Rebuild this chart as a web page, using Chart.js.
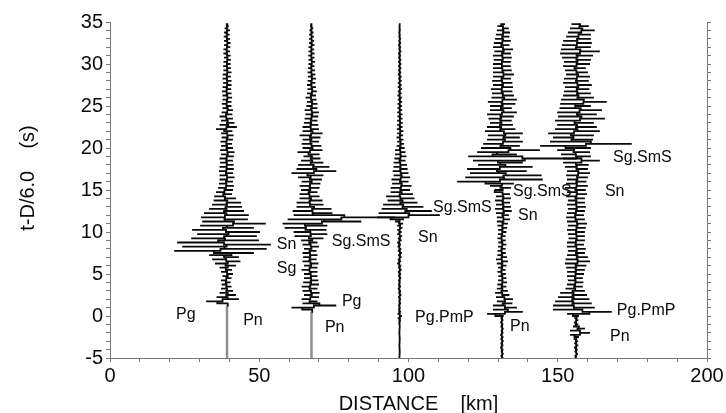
<!DOCTYPE html>
<html>
<head>
<meta charset="utf-8">
<script src="https://cdn.jsdelivr.net/npm/chart.js@4/dist/chart.umd.min.js"></script>
<style>
  html, body { margin: 0; padding: 0; background: #fff; }
  #wrap { width: 726px; height: 413px; }
</style>
</head>
<body>
<div id="wrap"><canvas id="section" width="726" height="413"></canvas></div>
<script>
// Record section: reduced time t - D/6.0 against epicentral distance
const TIME_START = -5;
const TIME_STEP = 0.25;

const stationKm = [39.2, 67.5, 97.0, 131.3, 156.1];

// Trace amplitudes, in km of offset from the station, one sample every 0.25 s from -5 s
// (each row below covers 5 s)
const trace1 = [
  0, 0, 0, 0, 0, 0, 0, 0, 0, 0, 0, 0, 0, 0, 0, 0, 0, 0, 0, 0,
  0, 0, 0, 0, 0, 0, 0.5, -7, 4, -3.5, 3, -2.5, 2, -2, 1.5, -1.8, 1.2, -2, 1.5, -1.5,
  2, -2, 1.7, -2.5, 3, -4, 4.5, -5, 4, -6, 9, -17.7, 13.3, -15, 14.7, -16.7, 10.7, -12, 10, -10,
  11, -11.7, 9, -9, 13, -8.3, 7, -8.7, 7.3, -7.7, 5.7, -6, 5, -5, 4.7, -4.5, 3, -4.3, 1.7, -3.7,
  2, -3, 2.3, -2.7, 2, -2.5, 2.5, -2.5, 2, -2.7, 2.3, -2.5, 2.2, -2.3, 2, -2.5, 2.3, -2, 2.5, -2.3,
  2, -2, 1.7, -2.2, 2, -1.8, 2.2, -2, 1.8, -3.7, 3.3, -2.5, 2.5, -2, 2, -2.5, 1.8, -1.8, 2, -1.5,
  1.5, -1.7, 1.5, -1.5, 1.7, -1.5, 1.5, -1.7, 1.4, -1.5, 1.5, -1.3, 1.5, -1.5, 1.3, -1.4, 1.5, -1.2, 1.3, -1.3,
  1.2, -1.2, 1.3, -1, 1.2, -1.2, 1, -1.2, 1.1, -1, 1.2, -1, 1, -1.1, 0.9, -1, 1, -0.8, 0.6, -0.4
];
const trace2 = [
  0, 0, 0, 0, 0, 0, 0, 0, 0, 0, 0, 0, 0, 0, 0, 0, 0, 0, 0, 0,
  0, 0, 0, 0.5, -6.7, 8.3, -3, 2, -3.3, 2.5, -2.5, 2.7, -3, 2, -3.3, 2.5, -2.8, 2.3, -2.5, 2,
  -2.5, 2, -3.3, 2, -2.5, 2.3, -3, 1.7, -2.8, 2, -3, 1.7, -2.5, 2.5, -3, 2, -3.5, 4, -5.7, 5.3,
  -6, 5, -9, 5.3, -9.7, 16.7, -8, 28, -6, 7, -6.3, 6.7, -5, 4, -5, 3.7, -4, 2.7, -4, 2,
  -3.5, 2.7, -4, 3, -3.3, 3.5, -4.5, 4, -6.7, 8.3, -5, 6, -4.5, 4, -3.5, 3, -2.7, 2.7, -4.7, 3.7,
  -3, 3.3, -3.3, 2.5, -3, 3, -4, 3.7, -3, 2.5, -3, 2.3, -2.5, 2, -2.3, 2.3, -2, 2.5, -2.3, 2,
  -1.7, 2, -1.5, 1.7, -2, 1.5, -1.5, 1.8, -1.3, 1.5, -1.5, 1.3, -1.3, 1.5, -1.2, 1.3, -1.3, 1.2, -1.2, 1,
  -1, 1.2, -1, 1, -1.1, 1, -1, 0.9, -1, 1, -0.8, 0.9, -0.8, 0.8, -0.8, 0.7, -0.7, 0.6, -0.5, 0.3
];
const trace3 = [
  0.2, -0.3, 0.3, -0.2, 0.3, -0.3, 0.2, -0.3, 0.3, -0.2, 0.3, -0.3, 0.2, -0.3, 0.3, -0.2, 0.3, -0.4, 0.5, -0.6,
  0.8, -0.7, 0.5, -0.5, 0.4, -0.5, 0.5, -0.4, 0.5, -0.5, 0.6, -0.4, 0.5, -0.6, 0.5, -0.5, 0.4, -0.5, 0.6, -0.5,
  0.5, -0.6, 0.7, -0.5, 0.6, -0.8, 0.5, -0.6, 0.7, -0.5, 0.8, -0.6, 0.6, -0.7, 0.5, -0.8, 0.7, -0.6, 0.9, -0.8,
  0.7, -0.8, 1, -0.8, 1.2, -1.5, 1.5, -7.5, 13.5, -7, 10.8, -6, 8, -5.5, 6, -4, 5, -4.5, 4.5, -3,
  3.5, -3, 4, -2.5, 3, -2.7, 3.5, -2, 3, -2.3, 2.7, -2, 2.5, -2, 2, -1.7, 2.3, -1.5, 2, -1.5,
  1.7, -1, 1.5, -0.8, 1.3, -1, 1.2, -0.8, 1.3, -0.9, 1, -0.8, 1.1, -0.8, 1, -0.7, 1, -0.8, 0.9, -0.7,
  0.8, -0.7, 0.9, -0.6, 0.8, -0.7, 0.7, -0.6, 0.8, -0.6, 0.7, -0.6, 0.7, -0.5, 0.7, -0.6, 0.6, -0.5, 0.6, -0.5,
  0.6, -0.5, 0.6, -0.5, 0.5, -0.5, 0.6, -0.4, 0.5, -0.5, 0.5, -0.4, 0.5, -0.4, 0.4, -0.4, 0.4, -0.3, 0.3, -0.2
];
const trace4 = [
  0.5, -0.5, 0.6, -0.4, 0.5, -0.6, 0.5, -0.5, 0.6, -0.5, 0.5, -0.6, 0.5, -0.4, 0.6, -0.5, 0.5, -0.6, 0.5, -0.5,
  0.6, -5, 7, -3, 5, -3, 3.5, -1.7, 3.7, -2, 2.5, -2.3, 2, -1.7, 1.5, -1.5, 1.7, -1.3, 1.5, -1.2,
  1.3, -1.5, 1.2, -1.3, 1.5, -1.7, 2, -2, 1.7, -1.5, 1.3, -1.5, 1.2, -1.3, 1.5, -1.2, 1.3, -1.5, 1.2, -1.3,
  1.5, -1.3, 1.7, -1.5, 2, -1.7, 2.7, -1.7, 2.3, -2, 3.3, -2.3, 3, -2, 2.7, -2.3, 3, -2, 2.7, -2.3,
  -2.5, 3, -4, 4, -15, 13.7, -12.3, 13.3, -10.7, 8.3, -11.7, 10.3, -8, 7, -9.7, 25, -11.3, 5, -8.3, 12.7,
  -7, 6, -6.3, 7, -5, 6, -4.7, 7, -5.7, 4.5, -5, 3.7, -4, 3.3, -4.5, 4, -5, 5, -4, 3.3,
  -4, 4.5, -4.7, 5, -3.5, 4, -3.3, 3.5, -3.7, 3.7, -3, 3.5, -3.3, 3, -3, 4, -3, 3.3, -3, 3,
  -3, 3, -2.7, 3.3, -3, 3, -2.5, 3.7, -3, 2.5, -2.7, 3, -2.3, 2.5, -2, 2.7, -1.7, 2.3, -1.5, 1
];
const trace5 = [
  0.3, -0.5, 0.7, -0.5, 0.6, -0.7, 0.8, -0.6, 0.7, -0.8, 1, -2, 4.7, -2, 3, -1, 0.8, -0.7, 0.8, -0.6,
  1, -3, 12, -7.7, 6.3, -7.7, 5.3, -7, 4.5, -6, 3.7, -5.3, 3, -3.5, 2.3, -3, 2.5, -2.7, 2.3, -3,
  2.7, -3, 3, -3.3, 3.5, -3.7, 4.7, -3.5, 4, -3, 3, -2.7, 3.3, -3, 2.7, -3, 3, -2.5, 3, -2.7,
  3, -3, 3.3, -2.7, 3.7, -3, 3, -3.3, 2.7, -3, 3, -2.7, 3.3, -3, 3, -2.7, 3, -3.3, 3.7, -3,
  3.3, -3.7, 4, -3.3, 3.5, -3, 4, -3.3, 4.7, -3, 4, -3.7, 4.3, -4.3, 8, -4.3, 5, -5, 4.7, -6.3,
  5, -12, 18.7, -8.7, 5.7, -7.7, 6, -9.3, 8, -7, 7, -6.3, 6, -7, 9.7, -6, 7, -6.3, 8.7, -5.5,
  5, -5.3, 10.3, -5, 6, -4.3, 5, -4, 4.5, -3.7, 5.3, -4.3, 4.3, -4, 4.7, -3.3, 4, -3.7, 3.3, -4.3,
  4.7, -4, 5, -4.7, 5.7, -5.3, 8, -5, 5, -4.7, 5.3, -4.3, 5, -3.3, 5, -2.7, 6.3, -2, 4.3, -1.5
];
const traces = [trace1, trace2, trace3, trace4, trace5];

// Phase picks: name, left edge of the label (km), reduced time (s)
const phaseNames = ['Pg', 'Pn', 'Sn', 'Sg',
  'Pg', 'Pn', 'Sg.SmS',
  'Sg.SmS', 'Sn', 'Pg.PmP',
  'Pn', 'Sg.SmS', 'Sn',
  'Sg.SmS', 'Sn', 'Pg.PmP', 'Pn'];
const phaseKm = [22.1, 44.6, 55.9, 55.9,
  77.7, 72.0, 74.3,
  108.2, 103.2, 102.2,
  134.0, 135.0, 136.7,
  168.5, 165.8, 169.8, 167.5];
const phaseTime = [0.2, -0.5, 8.45, 5.6,
  1.7, -1.4, 8.8,
  12.9, 9.3, -0.2,
  -1.3, 14.8, 12.0,
  18.8, 14.8, 0.6, -2.4];

const distanceTicks = [0, 50, 100, 150, 200];
const timeTicks = [-5, 0, 5, 10, 15, 20, 25, 30, 35];

const FONT = 'Arial, "Liberation Sans", sans-serif';
const INK = '#0a0a0a';
const AXIS = '#777';

Chart.defaults.font.family = FONT;

// samples become horizontal strokes that meet near the trace axis
const datasets = traces.map((amps, k) => {
  const quiet = c => amps[c.p0DataIndex] === 0 && amps[c.p1DataIndex] === 0;
  return {
    data: amps.map((a, i) => ({ x: stationKm[k] + a, y: TIME_START + i * TIME_STEP })),
    showLine: true,
    stepped: 'middle',
    pointRadius: 0,
    borderColor: INK,
    borderWidth: 1.8,
    segment: {
      borderColor: c => quiet(c) ? '#8f8f8f' : INK,
      borderWidth: c => quiet(c) ? 2.5 : 1.8
    }
  };
});

// phase names and axis titles
const annotate = {
  id: 'annotate',
  afterDatasetsDraw(chart) {
    const { ctx, scales: { x, y } } = chart;
    ctx.save();
    ctx.fillStyle = INK;
    ctx.font = '16px ' + FONT;
    ctx.textAlign = 'left';
    ctx.textBaseline = 'middle';
    phaseNames.forEach((name, i) => {
      ctx.fillText(name, x.getPixelForValue(phaseKm[i]), y.getPixelForValue(phaseTime[i]));
    });

    ctx.font = '20px ' + FONT;
    ctx.textAlign = 'center';
    ctx.textBaseline = 'alphabetic';
    ctx.fillText('DISTANCE    [km]', (x.left + x.right) / 2 + 10, chart.height - 3);

    ctx.translate(34, (y.top + y.bottom) / 2 - 12);
    ctx.rotate(-Math.PI / 2);
    ctx.fillText('t-D/6.0    (s)', 0, 0);
    ctx.restore();
  }
};

const tickFont = { family: FONT, size: 20 };

new Chart(document.getElementById('section'), {
  type: 'scatter',
  data: { datasets },
  plugins: [annotate],
  options: {
    responsive: false,
    animation: false,
    layout: { padding: { top: 22, left: 0, right: 0, bottom: 0 } },
    plugins: { legend: { display: false }, tooltip: { enabled: false } },
    scales: {
      x: {
        type: 'linear', min: 0, max: 200,
        border: { color: AXIS },
        grid: { drawOnChartArea: false, tickLength: 4, tickColor: AXIS },
        ticks: {
          stepSize: 10, autoSkip: false, maxRotation: 0, padding: 2,
          color: INK, font: tickFont,
          callback: v => distanceTicks.includes(v) ? v : ''
        },
        afterFit: s => { s.height = 55; }
      },
      y: {
        type: 'linear', position: 'left', min: -5, max: 35,
        border: { color: AXIS },
        grid: { drawOnChartArea: false, tickLength: 4, tickColor: AXIS },
        ticks: {
          stepSize: 1, autoSkip: false, padding: 3,
          color: INK, font: tickFont,
          callback: v => timeTicks.includes(v) ? v : ''
        },
        afterFit: s => { s.width = 110; }
      },
      yRight: {
        type: 'linear', position: 'right', min: -5, max: 35,
        border: { color: AXIS },
        grid: { drawOnChartArea: false, tickLength: 4, tickColor: AXIS },
        ticks: { stepSize: 1, autoSkip: false, callback: () => '' },
        afterFit: s => { s.width = 19; }
      }
    }
  }
});
</script>
</body>
</html>
